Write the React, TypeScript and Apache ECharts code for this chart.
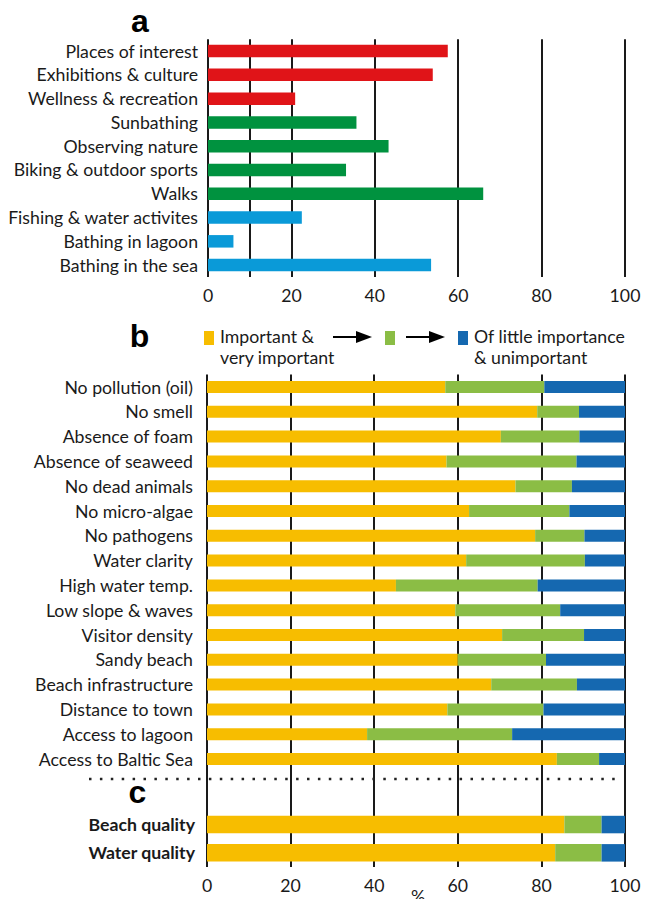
import React, { useEffect, useRef } from "react";
import * as echarts from "echarts";

// ---------- data ----------
const activityLabels = [
  "Places of interest",
  "Exhibitions & culture",
  "Wellness & recreation",
  "Sunbathing",
  "Observing nature",
  "Biking & outdoor sports",
  "Walks",
  "Fishing & water activites",
  "Bathing in lagoon",
  "Bathing in the sea",
];
const activityValues = [57.5, 53.9, 20.9, 35.6, 43.3, 33.1, 66.0, 22.5, 6.1, 53.5];
const activityGroups = [
  "culture", "culture", "culture",
  "nature", "nature", "nature", "nature",
  "water", "water", "water",
];

const criteriaLabels = [
  "No pollution (oil)",
  "No smell",
  "Absence of foam",
  "Absence of seaweed",
  "No dead animals",
  "No micro-algae",
  "No pathogens",
  "Water clarity",
  "High water temp.",
  "Low slope & waves",
  "Visitor density",
  "Sandy beach",
  "Beach infrastructure",
  "Distance to town",
  "Access to lagoon",
  "Access to Baltic Sea",
];
const importantValues = [57.0, 79.0, 70.3, 57.3, 73.8, 62.7, 78.5, 62.0, 45.2, 59.4, 70.6, 60.0, 68.0, 57.5, 38.3, 83.7];
const mediumValues = [23.7, 10.0, 18.8, 31.1, 13.5, 24.0, 11.8, 28.4, 33.9, 25.1, 19.6, 21.1, 20.5, 23.0, 34.7, 10.1];
const littleValues = [19.3, 11.0, 10.9, 11.6, 12.7, 13.3, 9.7, 9.6, 20.9, 15.5, 9.8, 18.9, 11.5, 19.5, 27.0, 6.2];

const qualityLabels = ["Beach quality", "Water quality"];
const qualityImportant = [85.5, 83.3];
const qualityMedium = [8.9, 11.1];
const qualityLittle = [5.6, 5.6];

const xTickInterval = 20;
const extraGridValueA = 10;

const legendLine1 = ["Important &", "Of little importance"];
const legendLine2 = ["very important", "& unimportant"];
const panelLetters = ["a", "b", "c"];
const axisUnit = "%";

// ---------- styles ----------
const GROUP_COLORS: Record<string, string> = {
  culture: "#e01418",
  nature: "#00923f",
  water: "#0a9ad8",
};
const YELLOW = "#f7bd00";
const GREEN = "#8bbd45";
const BLUE = "#1568b0";
const INK = "#1a1a1a";
const FONT = "Lato";
const FS = 17.7;

export default function App() {
  const ref = useRef<HTMLDivElement>(null);

  useEffect(() => {
    if (!ref.current) return;
    const chart = echarts.init(ref.current, undefined, { renderer: "svg" });

    const gapCats = ["gap1", "gap2"];
    const cCats = [...gapCats, ...qualityLabels];
    const pad = (arr: number[]) => [null, null, ...arr];

    const splitLine = { show: true, lineStyle: { color: INK, width: 2, type: "solid" } };
    const baseX = {
      type: "value",
      min: 0,
      max: 100,
      interval: xTickInterval,
      axisLine: { show: false },
      axisTick: { show: false },
      splitLine,
    };
    const baseY = {
      type: "category",
      inverse: true,
      axisLine: { show: false },
      axisTick: { show: false },
    };
    const labelStyle = { color: INK, fontFamily: FONT, fontSize: FS };
    const legendFont = `${FS}px ${FONT}`;
    const letterFont = "bold 32px 'Liberation Sans', Arial";

    const option: any = {
      animation: false,
      backgroundColor: "#ffffff",
      grid: [
        { left: 208, width: 417, top: 39.2, height: 237.8 },
        { left: 207, width: 418, top: 374.6, height: 396.8 },
        { left: 207, width: 418, top: 753.8, height: 113.2 },
      ],
      xAxis: [
        { ...baseX, gridIndex: 0, axisLabel: { ...labelStyle, margin: 9.5 } },
        { ...baseX, gridIndex: 1, axisLabel: { show: false } },
        { ...baseX, gridIndex: 2, axisLabel: { ...labelStyle, margin: 9.5 } },
      ],
      yAxis: [
        { ...baseY, gridIndex: 0, data: activityLabels, axisLabel: { ...labelStyle, margin: 10 } },
        { ...baseY, gridIndex: 1, data: criteriaLabels, axisLabel: { ...labelStyle, margin: 14 } },
        {
          ...baseY,
          gridIndex: 2,
          data: cCats,
          axisLabel: {
            ...labelStyle,
            fontWeight: "bold",
            margin: 12,
            formatter: (v: string) => (gapCats.includes(v) ? "" : v),
          },
        },
      ],
      series: [
        {
          type: "bar",
          xAxisIndex: 0,
          yAxisIndex: 0,
          barWidth: 12.5,
          data: activityValues.map((v, i) => ({
            value: v,
            itemStyle: { color: GROUP_COLORS[activityGroups[i]] },
          })),
          markLine: {
            z: 1,
            silent: true,
            symbol: "none",
            label: { show: false },
            lineStyle: { color: INK, width: 2, type: "solid" },
            data: [{ xAxis: extraGridValueA }],
          },
        },
        { type: "bar", xAxisIndex: 1, yAxisIndex: 1, stack: "b", barWidth: 12, itemStyle: { color: YELLOW }, data: importantValues },
        { type: "bar", xAxisIndex: 1, yAxisIndex: 1, stack: "b", barWidth: 12, itemStyle: { color: GREEN }, data: mediumValues },
        { type: "bar", xAxisIndex: 1, yAxisIndex: 1, stack: "b", barWidth: 12, itemStyle: { color: BLUE }, data: littleValues },
        { type: "bar", xAxisIndex: 2, yAxisIndex: 2, stack: "c", barWidth: 17.5, itemStyle: { color: YELLOW }, data: pad(qualityImportant) },
        { type: "bar", xAxisIndex: 2, yAxisIndex: 2, stack: "c", barWidth: 17.5, itemStyle: { color: GREEN }, data: pad(qualityMedium) },
        { type: "bar", xAxisIndex: 2, yAxisIndex: 2, stack: "c", barWidth: 17.5, itemStyle: { color: BLUE }, data: pad(qualityLittle) },
      ],
      graphic: [
        // panel letters
        { type: "text", x: 140, y: 20.5, style: { text: panelLetters[0], font: letterFont, fill: "#000", align: "center", verticalAlign: "middle" } },
        { type: "text", x: 139.5, y: 335.5, style: { text: panelLetters[1], font: letterFont, fill: "#000", align: "center", verticalAlign: "middle" } },
        { type: "text", x: 137.5, y: 791.8, style: { text: panelLetters[2], font: letterFont, fill: "#000", align: "center", verticalAlign: "middle" } },
        // legend
        { type: "rect", shape: { x: 204, y: 331, width: 10, height: 14 }, style: { fill: YELLOW } },
        { type: "text", x: 220, y: 336, style: { text: legendLine1[0], font: legendFont, fill: INK, verticalAlign: "middle" } },
        { type: "text", x: 220, y: 357, style: { text: legendLine2[0], font: legendFont, fill: INK, verticalAlign: "middle" } },
        { type: "line", shape: { x1: 333, y1: 337, x2: 360, y2: 337 }, style: { stroke: "#000", lineWidth: 2 } },
        { type: "polygon", shape: { points: [[356, 331], [372, 337], [356, 343]] }, style: { fill: "#000" } },
        { type: "rect", shape: { x: 385, y: 331, width: 10, height: 14 }, style: { fill: GREEN } },
        { type: "line", shape: { x1: 406, y1: 337, x2: 433, y2: 337 }, style: { stroke: "#000", lineWidth: 2 } },
        { type: "polygon", shape: { points: [[429, 331], [445, 337], [429, 343]] }, style: { fill: "#000" } },
        { type: "rect", shape: { x: 458, y: 331, width: 10, height: 14 }, style: { fill: BLUE } },
        { type: "text", x: 474, y: 336, style: { text: legendLine1[1], font: legendFont, fill: INK, verticalAlign: "middle" } },
        { type: "text", x: 474, y: 357, style: { text: legendLine2[1], font: legendFont, fill: INK, verticalAlign: "middle" } },
        // dotted separator
        { type: "line", z: 10, shape: { x1: 89, y1: 779, x2: 622, y2: 779 }, style: { stroke: "#222", lineWidth: 2.5, lineDash: [2.5, 8.4] } },
        // unit
        { type: "text", x: 418, y: 896, style: { text: axisUnit, font: legendFont, fill: INK, align: "center", verticalAlign: "middle" } },
      ],
    };

    chart.setOption(option);
    return () => chart.dispose();
  }, []);

  return (
    <div
      ref={ref}
      style={{ position: "fixed", left: 0, top: 0, width: 646, height: 899, background: "#fff" }}
    />
  );
}
